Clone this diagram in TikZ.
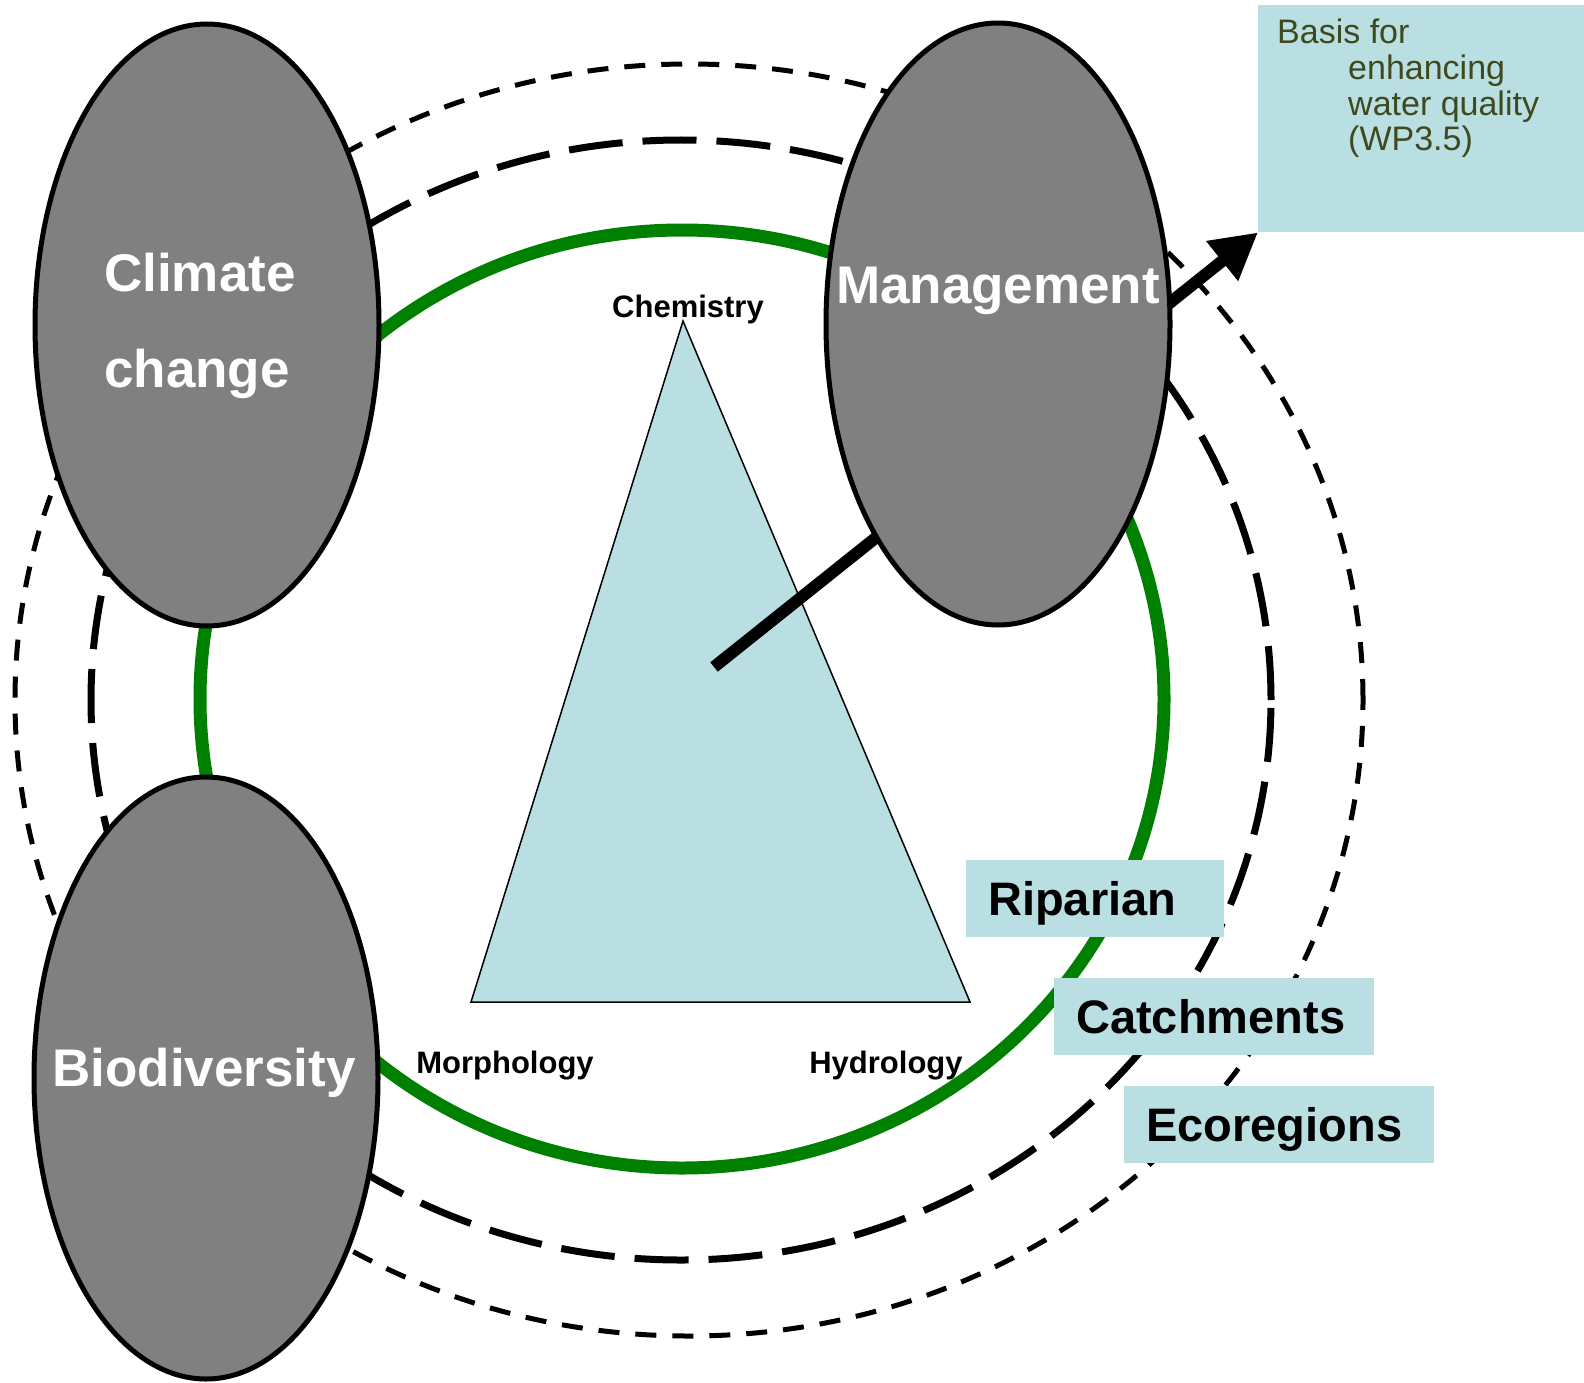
\documentclass[tikz,border=0pt]{standalone}
\usepackage{fontspec}
\setmainfont{Liberation Sans}
\usetikzlibrary{shapes.geometric,arrows.meta}

\definecolor{paleblue}{RGB}{185,223,226}
\definecolor{ringgreen}{RGB}{0,128,0}
\definecolor{olivetext}{RGB}{62,74,30}
\definecolor{bubblegray}{RGB}{128,128,128}

\tikzset{
  bubble/.style={ellipse, draw=black, line width=5pt, fill=bubblegray,
    minimum width=344pt, minimum height=602pt, inner sep=0pt},
  bubbletxt/.style={text=white, font=\fontsize{53}{64}\selectfont\bfseries, inner sep=0pt},
  tagbox/.style={fill=paleblue, anchor=north west, align=left,
    font=\fontsize{47}{50}\selectfont\bfseries, inner xsep=22pt, inner ysep=0pt,
    text height=34pt, text depth=0pt, minimum height=77pt},
  vertex/.style={font=\fontsize{31}{34}\selectfont\bfseries, anchor=base, inner sep=0pt},
  longdash/.style={line width=7pt, dash pattern=on 54pt off 20pt},
  shortdash/.style={line width=5pt, dash pattern=on 21pt off 16pt},
}

\begin{document}
\begin{tikzpicture}[x=1pt,y=-1pt]
\useasboundingbox (0,0) rectangle (1584,1383);

% rings
\draw[shortdash] (689,700) ellipse [x radius=674pt, y radius=636pt];
\draw[longdash] (681,700) ellipse [x radius=590pt, y radius=560pt];
\draw[ringgreen, line width=13pt] (682,699) ellipse [x radius=482pt, y radius=469pt];

% triangle
\coordinate (chemv) at (683,321);
\coordinate (morphv) at (471,1002);
\coordinate (hydrv) at (970,1002);
\filldraw[fill=paleblue, draw=black, line width=1.5pt] (chemv) -- (morphv) -- (hydrv) -- cycle;
\node[vertex] (chem) at (688,317) {Chemistry};
\node[vertex] (morph) at (505,1073) {Morphology};
\node[vertex] (hydr) at (886,1073) {Hydrology};

% output box
\node[fill=paleblue, anchor=north west, minimum width=326pt, minimum height=227pt, inner sep=0pt] (basis) at (1258,5) {};
\node[anchor=north west, align=left, inner sep=0pt, text=olivetext,
  font=\fontsize{34}{35.7}\selectfont] (basistxt) at (1277,19)
  {Basis for\\\hspace*{71pt}enhancing\\\hspace*{71pt}water quality\\\hspace*{71pt}(WP3.5)};

\coordinate (hub) at (714,667);
\draw[line width=12pt, -{Triangle[length=46pt,width=48pt]}] (hub) -- (basis.south west);

% bubbles
\node[bubble] (clim) at (207,325) {};
\node[bubble] (mgmt) at (998,324) {};
\node[bubble] (biod) at (206,1078) {};
\node[bubbletxt, anchor=base west] (climtxt) at (104,291) {Climate};
\node[bubbletxt, anchor=base west] (chgtxt) at (104,387) {change};
\node[bubbletxt, anchor=base] (mgmttxt) at (998,303) {Management};
\node[bubbletxt, anchor=base] (biodtxt) at (204,1086) {Biodiversity};

% scales
\node[tagbox, text width=214pt] (riparian) at (966,860) {Riparian};
\node[tagbox, text width=276pt] (catch) at (1054,978) {Catchments};
\node[tagbox, text width=266pt] (ecoreg) at (1124,1086) {Ecoregions};
\end{tikzpicture}
\end{document}
